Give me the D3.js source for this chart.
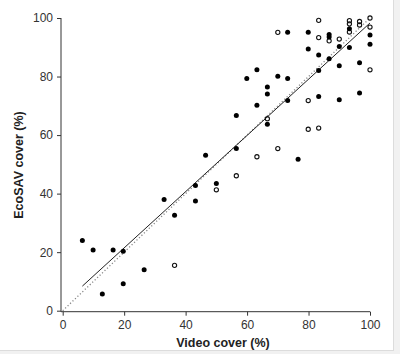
<!DOCTYPE html>
<html>
<head>
<meta charset="utf-8">
<script src="https://cdn.jsdelivr.net/npm/d3@7"></script>
<style>
  body { margin: 0; background: #fff; }
  svg { display: block; font-family: "Liberation Sans", Arial, sans-serif; }
  .tick text { fill: #333; font-size: 12px; }
  .tick line, .domain { stroke: #333; }
  .title { font-weight: bold; font-size: 12.5px; fill: #222; }
</style>
</head>
<body>
<div id="vis"></div>
<script>
// filled symbols
var filledX = [6.4, 9.9, 12.9, 16.4, 19.7, 19.7, 26.5, 33.0, 36.4, 43.2, 43.2, 46.5, 50.0,
               56.5, 56.5, 59.9, 63.2, 63.2, 66.6, 66.6, 66.6, 70.0, 73.2, 73.2, 73.2, 76.6,
               79.9, 79.9, 83.3, 83.3, 83.3, 86.7, 86.7, 86.7, 90.0, 90.0, 90.0, 93.3, 93.3,
               96.6, 96.6, 100, 100];
var filledY = [24.0, 20.7, 5.7, 20.7, 20.3, 9.2, 14.0, 38.0, 32.6, 42.8, 37.5, 53.1, 43.5,
               55.4, 66.7, 79.3, 82.3, 70.2, 76.4, 74.0, 63.7, 80.1, 95.1, 79.3, 71.8, 51.7,
               95.1, 89.4, 87.4, 82.1, 73.2, 94.4, 93.5, 86.1, 90.3, 83.7, 72.1, 89.9, 96.3,
               84.7, 74.4, 94.2, 91.0];
// open symbols
var openX = [36.4, 50.0, 56.5, 63.2, 66.6, 70.0, 70.0, 79.9, 79.9, 83.3, 83.3, 83.3, 86.7,
             90.0, 93.3, 93.3, 93.3, 96.6, 96.6, 100, 100, 100];
var openY = [15.5, 41.3, 46.1, 52.6, 65.6, 95.1, 55.4, 71.8, 62.0, 99.2, 93.3, 62.4, 92.2,
             92.8, 99.1, 98.0, 95.2, 98.8, 97.6, 100, 96.9, 82.3];
// fitted line and 1:1 line ends
var fitX = [6.4, 100];
var fitY = [8.4, 98.3];
var oneToOne = [0, 100];
var ticks = [0, 20, 40, 60, 80, 100];

var width = 400, height = 354;
var margin = {left: 62.7, right: 30, top: 18, bottom: 43.3};

var svg = d3.select('#vis').append('svg')
            .attr('width', width)
            .attr('height', height);

// light frame at the edge of the picture
svg.append('rect').attr('x', 394).attr('y', 0).attr('width', 6).attr('height', height).attr('fill', '#f1f1f1');
svg.append('rect').attr('x', 0).attr('y', 351).attr('width', width).attr('height', 3).attr('fill', '#f1f1f1');
svg.append('line').attr('x1', 393.5).attr('x2', 393.5).attr('y1', 0).attr('y2', 351).attr('stroke', '#dcdcdc');
svg.append('line').attr('x1', 0).attr('x2', 394).attr('y1', 350.5).attr('y2', 350.5).attr('stroke', '#dcdcdc');

var xScale = d3.scaleLinear().domain([0, 100]).range([margin.left, width - margin.right]);
var yScale = d3.scaleLinear().domain([0, 100]).range([height - margin.bottom, margin.top]);

var xAxis = d3.axisBottom(xScale).tickValues(ticks).tickSize(4).tickSizeOuter(0).tickPadding(5);
var yAxis = d3.axisLeft(yScale).tickValues(ticks).tickSize(4).tickSizeOuter(0).tickPadding(4);

var gx = svg.append('g')
   .attr('transform', `translate(0, ${height - margin.bottom + 1})`)
   .call(xAxis);
gx.select('.domain').attr('d', `M${margin.left - 1.7},0H${xScale(100)}`);

var gy = svg.append('g')
   .attr('transform', `translate(${margin.left - 1.7}, 0)`)
   .call(yAxis);
gy.select('.domain').attr('d', `M0,${yScale(100)}V${yScale(0) + 1}`);

svg.append('text')
   .attr('class', 'title')
   .attr('text-anchor', 'middle')
   .attr('x', 223)
   .attr('y', 347)
   .text('Video cover (%)');

svg.append('text')
   .attr('class', 'title')
   .attr('text-anchor', 'middle')
   .attr('transform', `translate(23, ${165}) rotate(-90)`)
   .text('EcoSAV cover (%)');

// 1:1 line
svg.append('line')
   .attr('x1', xScale(oneToOne[0])).attr('y1', yScale(oneToOne[0]))
   .attr('x2', xScale(oneToOne[1])).attr('y2', yScale(oneToOne[1]))
   .attr('stroke', '#888')
   .attr('stroke-width', 1.3)
   .attr('stroke-dasharray', '1.2,2.2');

// fitted line
svg.append('line')
   .attr('x1', xScale(fitX[0])).attr('y1', yScale(fitY[0]))
   .attr('x2', xScale(fitX[1])).attr('y2', yScale(fitY[1]))
   .attr('stroke', '#222')
   .attr('stroke-width', 1);

svg.append('g').selectAll('circle')
   .data(openX.map((d, i) => [d, openY[i]]))
   .enter().append('circle')
   .attr('cx', (d) => xScale(d[0]))
   .attr('cy', (d) => yScale(d[1]))
   .attr('r', 2.1)
   .attr('fill', 'none')
   .attr('stroke', '#111')
   .attr('stroke-width', 1.1);

svg.append('g').selectAll('circle')
   .data(filledX.map((d, i) => [d, filledY[i]]))
   .enter().append('circle')
   .attr('cx', (d) => xScale(d[0]))
   .attr('cy', (d) => yScale(d[1]))
   .attr('r', 2.5)
   .attr('fill', '#000');
</script>
</body>
</html>
